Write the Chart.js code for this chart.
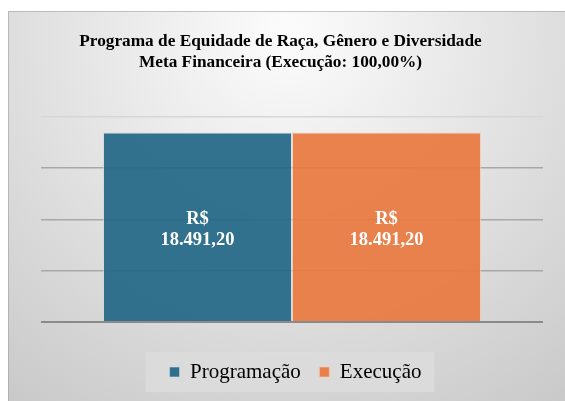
<!DOCTYPE html>
<html>
<head>
<meta charset="utf-8">
<script src="https://cdn.jsdelivr.net/npm/chart.js@4.4.1/dist/chart.umd.min.js"></script>
<style>
  body { margin: 0; background: #fff; }
  #box { position: absolute; left: 8px; top: 11px; width: 557px; height: 390px; }
</style>
</head>
<body>
<div id="box"><canvas id="statsChart"></canvas></div>
<script>
// dados do gráfico
const categorias = ['Meta Financeira'];
const programacao = [18491.20];
const execucao = [18491.20];
const titulo = ['Programa de Equidade de Raça, Gênero e Diversidade', 'Meta Financeira (Execução: 100,00%)'];
const serieNomes = ['Programação', 'Execução'];
const rotulos = ['R$', '18.491,20'];

const serif = "'Liberation Serif', 'Times New Roman', serif";
Chart.defaults.font.family = serif;
const desvioLegenda = 9;

// desloca título e legenda um pouco (o original não é centrado no canvas)
const ajustePlugin = {
  id: 'ajuste',
  afterUpdate(chart) {
    if (chart.titleBlock) { chart.titleBlock.left -= 6; chart.titleBlock.right -= 6; }
    if (chart.legend) { chart.legend.left += desvioLegenda; chart.legend.right += desvioLegenda; }
  }
};

// fundo em degradê + caixa da legenda
const fundoPlugin = {
  id: 'fundo',
  beforeDraw(chart) {
    const c = chart.ctx, w = chart.width, h = chart.height;
    c.save();
    const g = c.createRadialGradient(w * 0.5, h * 0.05, 10, w * 0.5, h * 0.05, w * 0.85);
    g.addColorStop(0, '#fbfbfb');
    g.addColorStop(1, '#c8c8c8');
    c.fillStyle = g;
    c.fillRect(0, 0, w, h);
    c.strokeStyle = 'rgba(150,150,150,0.5)';
    c.lineWidth = 1;
    c.strokeRect(0.5, 0.5, w, h);
    // caixa da legenda
    const hb = chart.legend.legendHitBoxes;
    if (hb && hb.length) {
      const last = hb[hb.length - 1];
      const x0 = hb[0].left + desvioLegenda - 24;
      const x1 = last.left + last.width + desvioLegenda + 13;
      const cy = hb[0].top + hb[0].height / 2;
      c.fillStyle = 'rgba(220,220,220,0.9)';
      c.fillRect(x0, cy - 20, x1 - x0, 40);
    }
    c.restore();
  }
};

// rótulos dentro das barras
const rotuloPlugin = {
  id: 'rotulos',
  afterDatasetsDraw(chart) {
    const c = chart.ctx;
    c.save();
    c.fillStyle = '#ffffff';
    c.font = 'bold 18.5px ' + serif;
    c.textAlign = 'center';
    c.textBaseline = 'middle';
    chart.data.datasets.forEach((ds, i) => {
      chart.getDatasetMeta(i).data.forEach(bar => {
        const my = (bar.y + bar.base) / 2;
        c.fillText(rotulos[0], bar.x, my - 7.5);
        c.fillText(rotulos[1], bar.x, my + 14);
      });
    });
    c.restore();
  }
};

const ctx = document.getElementById('statsChart').getContext('2d');
const chart = new Chart(ctx, {
  type: 'bar',
  data: {
    labels: categorias,
    datasets: [{
      label: serieNomes[0],
      data: programacao,
      backgroundColor: 'rgba(35,103,135,0.92)',
      borderColor: 'rgba(200,220,230,0.6)',
      borderWidth: 1
    }, {
      label: serieNomes[1],
      data: execucao,
      backgroundColor: 'rgba(233,120,63,0.92)',
      borderColor: 'rgba(250,200,170,0.7)',
      borderWidth: 1
    }]
  },
  options: {
    responsive: true,
    maintainAspectRatio: false,
    animation: false,
    layout: { padding: { top: 19.5, bottom: 8.5, left: 0, right: 0 } },
    datasets: { bar: { categoryPercentage: 0.753, barPercentage: 1 } },
    plugins: {
      title: {
        display: true,
        text: titulo,
        color: '#000',
        font: { family: serif, size: 17.3, weight: 'bold', lineHeight: 1.24 },
        padding: { top: 0, bottom: 43.5 }
      },
      legend: {
        position: 'bottom',
        labels: {
          color: '#000',
          font: { family: serif, size: 21, weight: 'normal' },
          boxWidth: 10,
          boxHeight: 10,
          padding: 18.5
        }
      },
      tooltip: { enabled: false }
    },
    scales: {
      x: {
        display: true,
        grid: { display: false },
        border: { display: false },
        ticks: { display: false },
        afterFit(s) { s.height = 21; }
      },
      y: {
        min: 0,
        max: 20000,
        ticks: { display: false, stepSize: 5000 },
        border: { display: false },
        grid: {
          color: c => c.tick.value === 0 ? '#8a8a8a' : (c.tick.value === 20000 ? '#d6d6d6' : '#a8a8a8'),
          lineWidth: c => c.tick.value === 0 ? 2 : 1.5,
          drawTicks: false
        },
        afterFit(s) { s.width = 33; }
      },
      y2: {
        position: 'right',
        display: true,
        grid: { display: false },
        border: { display: false },
        ticks: { display: false },
        afterFit(s) { s.width = 22; }
      }
    }
  },
  plugins: [ajustePlugin, fundoPlugin, rotuloPlugin]
});
</script>
</body>
</html>
